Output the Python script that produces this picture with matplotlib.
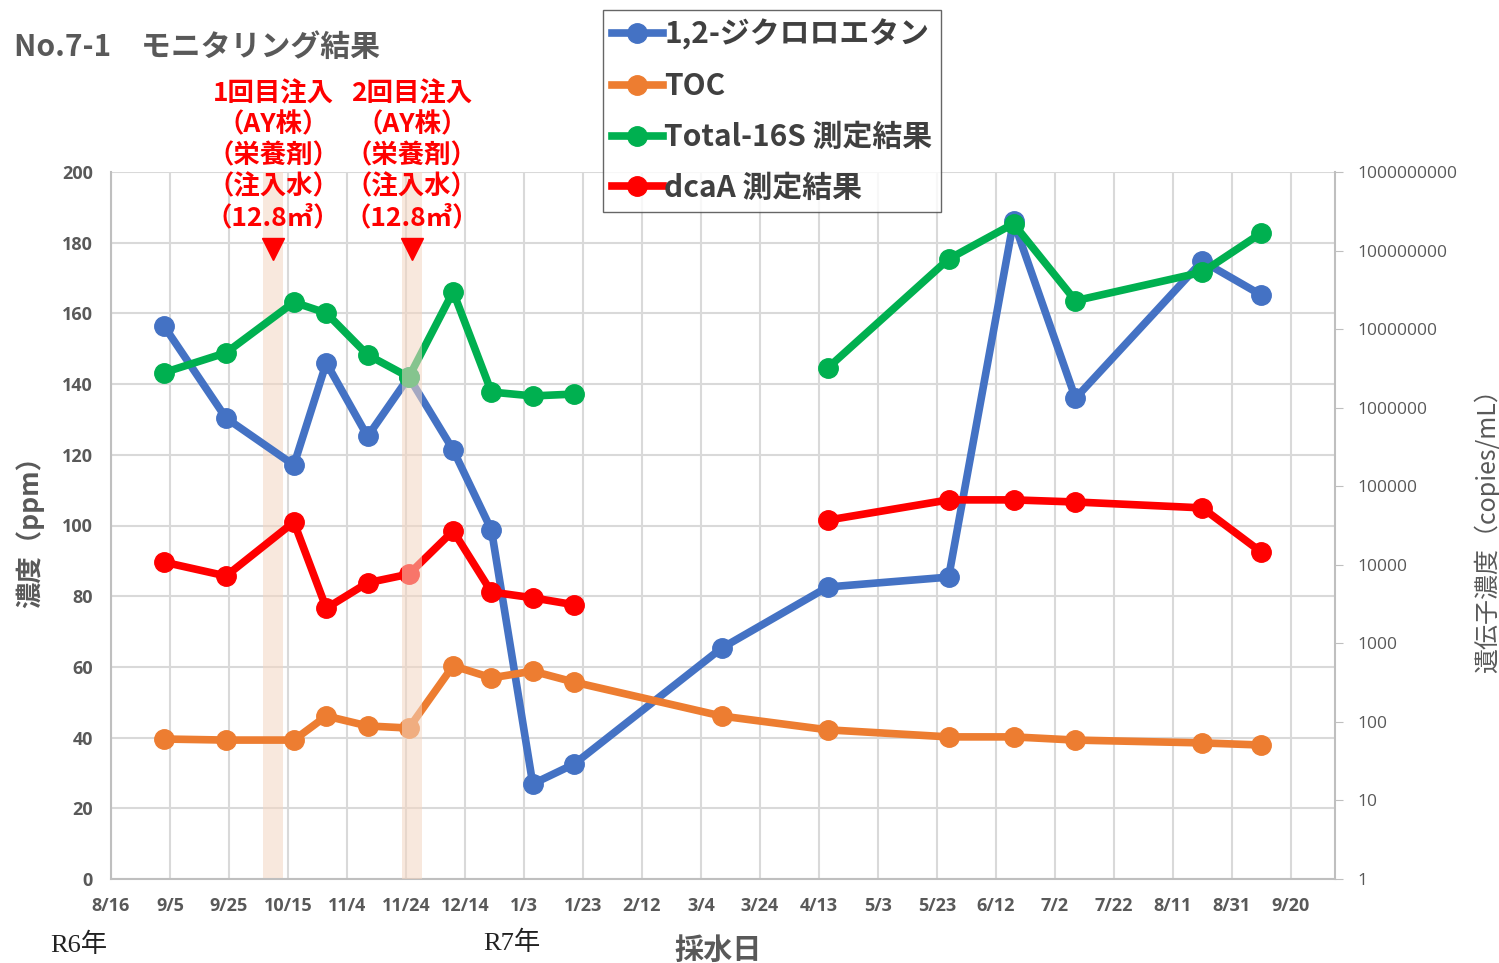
import matplotlib
matplotlib.use("Agg")
import matplotlib.pyplot as plt
import matplotlib.transforms as mtrans
import matplotlib.dates as mdates
from matplotlib.lines import Line2D
import numpy as np
import pandas as pd

plt.rcParams['font.family'] = ['Noto Sans CJK JP', 'DejaVu Sans']

# ---------------- data ----------------
dates = ["2024-09-03", "2024-09-24", "2024-10-17", "2024-10-28", "2024-11-11",
         "2024-11-25", "2024-12-10", "2024-12-23", "2025-01-06", "2025-01-20",
         "2025-03-11", "2025-04-16", "2025-05-27", "2025-06-18", "2025-07-09",
         "2025-08-21", "2025-09-10"]
dca = [156.4, 130.4, 117.1, 146.0, 125.2, 142.0, 121.4, 98.7, 26.9, 32.5,
       65.3, 82.6, 85.4, 186.1, 136.0, 174.8, 165.2]
toc = [39.6, 39.3, 39.3, 46.1, 43.3, 42.7, 60.3, 56.9, 58.8, 55.7,
       46.1, 42.2, 40.2, 40.2, 39.3, 38.5, 37.9]
total16s = [2.8e6, 5.0e6, 2.2e7, 1.6e7, 4.7e6, 2.45e6, 3.0e7, 1.58e6, 1.41e6, 1.49e6,
            np.nan, 3.2e6, 7.8e7, 2.2e8, 2.3e7, 5.3e7, 1.67e8]
dcaA = [1.08e4, 7.2e3, 3.5e4, 2.8e3, 5.9e3, 7.6e3, 2.7e4, 4.5e3, 3.8e3, 3.1e3,
        np.nan, 3.7e4, 6.7e4, 6.7e4, 6.3e4, 5.3e4, 1.45e4]

series_names = ["1,2-ジクロロエタン", "TOC", "Total-16S 測定結果", "dcaA 測定結果"]
series_colors = ["#4472C4", "#ED7D31", "#00B050", "#FF0000"]

injection_dates = ["2024-10-10", "2024-11-26"]
injection_labels = [["1回目注入", "（AY株）", "（栄養剤）", "（注入水）", "（12.8㎥）"],
                    ["2回目注入", "（AY株）", "（栄養剤）", "（注入水）", "（12.8㎥）"]]

x_start = "2024-08-16"
x_end = "2025-10-05"
left_ticks = [0, 20, 40, 60, 80, 100, 120, 140, 160, 180, 200]
right_ticks = [1, 10, 100, 1000, 10000, 100000, 1000000, 10000000, 100000000, 1000000000]

# ---------------- figure ----------------
W, H = 1499, 963
fig = plt.figure(figsize=(W / 100, H / 100), dpi=100)
ax = fig.add_axes([111 / W, 1 - 879 / H, (1335 - 111) / W, (879 - 172) / H])
ax2 = ax.twinx()

d = pd.to_datetime(dates)
grey = "#595959"
gridc = "#D9D9D9"
lw = 5.5
ms = 14

ax.plot(d, dca, color=series_colors[0], lw=lw, marker='o', ms=ms, zorder=3)
ax.plot(d, toc, color=series_colors[1], lw=lw, marker='o', ms=ms, zorder=3)
ax2.plot(d, total16s, color=series_colors[2], lw=lw, marker='o', ms=ms, zorder=3)
ax2.plot(d, dcaA, color=series_colors[3], lw=lw, marker='o', ms=ms, zorder=3)

# axes limits/ticks
ax.set_ylim(0, 200)
ax.set_yticks(left_ticks)
ax.set_xlim(pd.Timestamp(x_start), pd.Timestamp(x_end))
ticks = pd.date_range(x_start, periods=21, freq='20D')
ax.set_xticks(ticks)
ax.set_xticklabels([f"{t.month}/{t.day}" for t in ticks], fontsize=13, fontweight='bold',
                   color=grey, family=['Open Sans', 'DejaVu Sans'])
ax.tick_params(axis='y', length=0, labelsize=13, labelcolor=grey, pad=13)
ax.tick_params(axis='x', length=0, pad=13)
for lab in ax.get_yticklabels():
    lab.set_family(['Open Sans', 'DejaVu Sans'])
    lab.set_fontweight('bold')

ax2.set_yscale('log')
ax2.set_ylim(1, 1e9)
ax2.set_yticks(right_ticks)
ax2.set_yticklabels([str(v) for v in right_ticks], fontsize=12.5, color=grey,
                    family=['Open Sans', 'DejaVu Sans'])
ax2.yaxis.set_minor_locator(matplotlib.ticker.NullLocator())
ax2.tick_params(axis='y', which='major', length=6, color="#BFBFBF", direction='out', pad=10)

ax.grid(True, color=gridc, lw=1.5, zorder=0)
ax.set_axisbelow(True)
ax.spines['top'].set_visible(False)
ax2.spines['top'].set_visible(False)
ax2.spines['left'].set_visible(False)
ax2.spines['bottom'].set_visible(False)
ax.spines['right'].set_visible(False)
for s in ['left', 'bottom']:
    ax.spines[s].set_color("#BFBFBF")
    ax.spines[s].set_linewidth(1.5)
ax2.spines['right'].set_color("#BFBFBF")
ax2.spines['right'].set_linewidth(1.5)

# injection bands, markers and labels
blend = mtrans.blended_transform_factory(ax.transData, fig.transFigure)
band_color = "#F4D6C2"
for k, idate in enumerate(injection_dates):
    c = pd.Timestamp(idate)
    lo, hi = c - pd.Timedelta(days=3.3), c + pd.Timedelta(days=3.3)
    if k == 0:
        ax.axvspan(lo, hi, color=band_color, alpha=0.55, lw=0, zorder=1)
    else:
        ax2.axvspan(lo, hi, color=band_color, alpha=0.55, lw=0, zorder=10)
    cx = mdates.date2num(c)
    for j, line in enumerate(injection_labels[k]):
        fig.text(cx, 1 - (94 + 31 * j) / H, line, transform=blend,
                 ha='center', va='center', fontsize=19, fontweight='bold', color='#FF0000',
                 zorder=20)
    fig.add_artist(Line2D([cx], [1 - 249 / H], marker='v', ms=16, color='#FF0000',
                          transform=blend, zorder=20))

# title and axis labels
fig.text(14 / W, 1 - 47 / H, "No.7-1　モニタリング結果", fontsize=21.5, fontweight='bold',
         color=grey, ha='left', va='center')
fig.text(30 / W, 1 - 526 / H, "濃度（ppm）", rotation=90, fontsize=19, fontweight='bold',
         color=grey, ha='center', va='center')
fig.text(1487 / W, 1 - 525 / H, "遺伝子濃度（copies/mL）", rotation=90, fontsize=18,
         color=grey, ha='center', va='center')
fig.text(718 / W, 1 - 950 / H, "採水日", fontsize=21, fontweight='bold', color=grey,
         ha='center', va='center')
fig.text(50 / W, 1 - 945 / H, "R6年", fontsize=19, color='#222222', ha='left', va='center',
         family=['Liberation Serif', 'Noto Sans CJK JP'])
fig.text(483 / W, 1 - 943 / H, "R7年", fontsize=19, color='#222222', ha='left', va='center',
         family=['Liberation Serif', 'Noto Sans CJK JP'])

# legend
handles = [Line2D([0], [0], color=c, lw=lw, marker='o', ms=ms) for c in series_colors]
leg = fig.legend(handles, series_names, loc='upper left',
                 bbox_to_anchor=(603 / W, 1 - 10 / H), fancybox=False, frameon=True,
                 edgecolor='#404040', prop={'size': 21.5, 'weight': 'bold'},
                 handlelength=1.7, handletextpad=0.05, labelspacing=0.7,
                 borderpad=0.3, borderaxespad=0)
leg.get_frame().set_linewidth(1.0)
for t in leg.get_texts():
    t.set_color("#404040")

fig.savefig("out.png", dpi=100)
